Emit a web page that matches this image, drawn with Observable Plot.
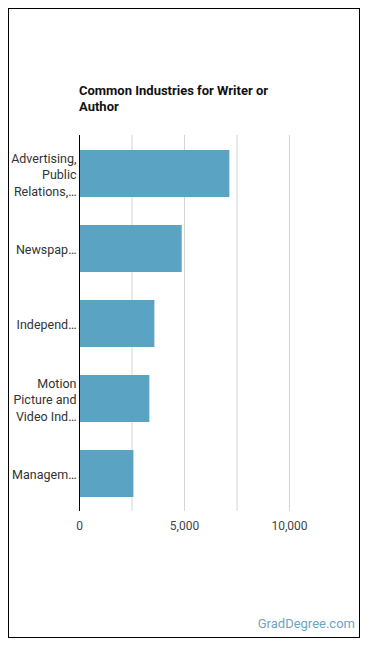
<!DOCTYPE html>
<html>
<head>
<meta charset="utf-8">
<script src="https://cdn.jsdelivr.net/npm/d3@7"></script>
<script src="https://cdn.jsdelivr.net/npm/@observablehq/plot@0.6"></script>
<style>
  html, body { margin: 0; padding: 0; background: #fff; }
  #wrap { position: relative; width: 370px; height: 648px; font-family: Roboto, sans-serif; }
  #frame { position: absolute; left: 8px; top: 8px; width: 352px; height: 630px; border: 1px solid #000; box-sizing: border-box; }
  #title { position: absolute; left: 79px; top: 83px; width: 215px; font-size: 13px; line-height: 16px; font-weight: bold; color: #111; }
  #caption { position: absolute; right: 15px; top: 616px; font-size: 13px; color: #6fa3c4; }
  #chart { position: absolute; left: 0; top: 0; }
</style>
</head>
<body>
<div id="wrap">
  <div id="frame"></div>
  <div id="chart"></div>
  <div id="title">Common Industries for Writer or Author</div>
  <div id="caption">GradDegree.com</div>
</div>
<script>
const categories = [
  "Advertising,\nPublic\nRelations,…",
  "Newspap…",
  "Independ…",
  "Motion\nPicture and\nVideo Ind…",
  "Managem…"
];
const values = [7160, 4890, 3590, 3350, 2590];
const xTickLabels = [0, 5000, 10000];
const gridTicks = [0, 2500, 5000, 7500, 10000];

const data = categories.map((c, i) => ({label: c, value: values[i]}));

const chart = Plot.plot({
  width: 370,
  height: 648,
  marginLeft: 79,
  marginRight: 39,
  marginTop: 135,
  marginBottom: 137,
  style: {fontFamily: "Roboto, sans-serif", background: "transparent"},
  x: {domain: [0, 12000]},
  y: {domain: categories, paddingInner: 0.375, paddingOuter: 0.1875},
  marks: [
    Plot.gridX(gridTicks, {stroke: "#d4d4d4", strokeOpacity: 1}),
    Plot.barX(data, {x: "value", y: "label", fill: "#5ba3c2"}),
    Plot.ruleX([0], {stroke: "#000", strokeWidth: 1}),
    Plot.axisX(xTickLabels, {tickSize: 0, tickPadding: 10, fontSize: 12, color: "#444", tickFormat: d3.format(","), label: null}),
    Plot.axisY({tickSize: 0, tickPadding: 3, fontSize: 12.5, lineHeight: 1.35, color: "#333", label: null})
  ]
});
document.getElementById("chart").appendChild(chart);
</script>
</body>
</html>
